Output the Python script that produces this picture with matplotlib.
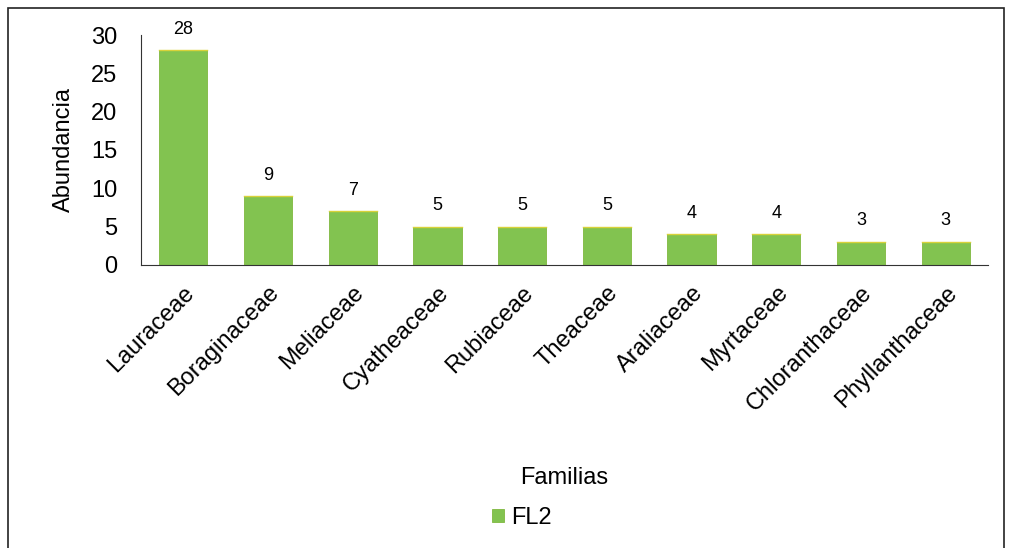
import matplotlib.pyplot as plt
from matplotlib.patches import Rectangle

familias = ['Lauraceae', 'Boraginaceae', 'Meliaceae', 'Cyatheaceae', 'Rubiaceae',
            'Theaceae', 'Araliaceae', 'Myrtaceae', 'Chloranthaceae', 'Phyllanthaceae']
abundancia = [28, 9, 7, 5, 5, 5, 4, 4, 3, 3]
serie = 'FL2'

plt.rcParams['font.family'] = ['Liberation Sans', 'DejaVu Sans']

fig = plt.figure(figsize=(10.13, 5.48), dpi=100)
ax = fig.add_axes([141 / 1013, 1 - 265 / 548, 847 / 1013, 230 / 548])

x = range(len(familias))
bars = ax.bar(x, abundancia, width=0.57, color='#82c350', edgecolor='#7fb83e',
              linewidth=0.6, label=serie)
for b, v in zip(bars, abundancia):
    # thin yellow rim on top of each bar
    ax.plot([b.get_x(), b.get_x() + b.get_width()], [v, v], color='#d8d23a', lw=1.0)
    ax.annotate(str(v), (b.get_x() + b.get_width() / 2, v), xytext=(0, 9),
                textcoords='offset points', ha='center', va='bottom', fontsize=13)

ax.set_xlim(-0.5, len(familias) - 0.5)
ax.set_ylim(0, 30)
ax.set_yticks(range(0, 31, 5))
ax.set_xticks(list(x))
ax.set_xticklabels(familias, rotation=45, ha='right', rotation_mode='anchor', fontsize=17)
ax.tick_params(axis='y', length=0, labelsize=17, pad=17)
ax.tick_params(axis='x', length=0, pad=12)
for s in ['top', 'right']:
    ax.spines[s].set_visible(False)
ax.spines['left'].set_color('#333333')
ax.spines['bottom'].set_color('#333333')
ax.set_ylabel('Abundancia', fontsize=17, labelpad=12)

fig.text(564 / 1013, 1 - 478 / 548, 'Familias', ha='center', va='center', fontsize=17)
fig.legend(loc='center', bbox_to_anchor=(522 / 1013, 1 - 518 / 548), frameon=False,
           fontsize=17, handlelength=0.5, handleheight=0.5, handletextpad=0.3)

fig.patches.append(Rectangle((8 / 1013, -0.05), 996 / 1013, 1.05 - 8 / 548,
                             transform=fig.transFigure, fill=False, edgecolor='#222222',
                             linewidth=1.2))

plt.savefig('out.png', dpi=100)
